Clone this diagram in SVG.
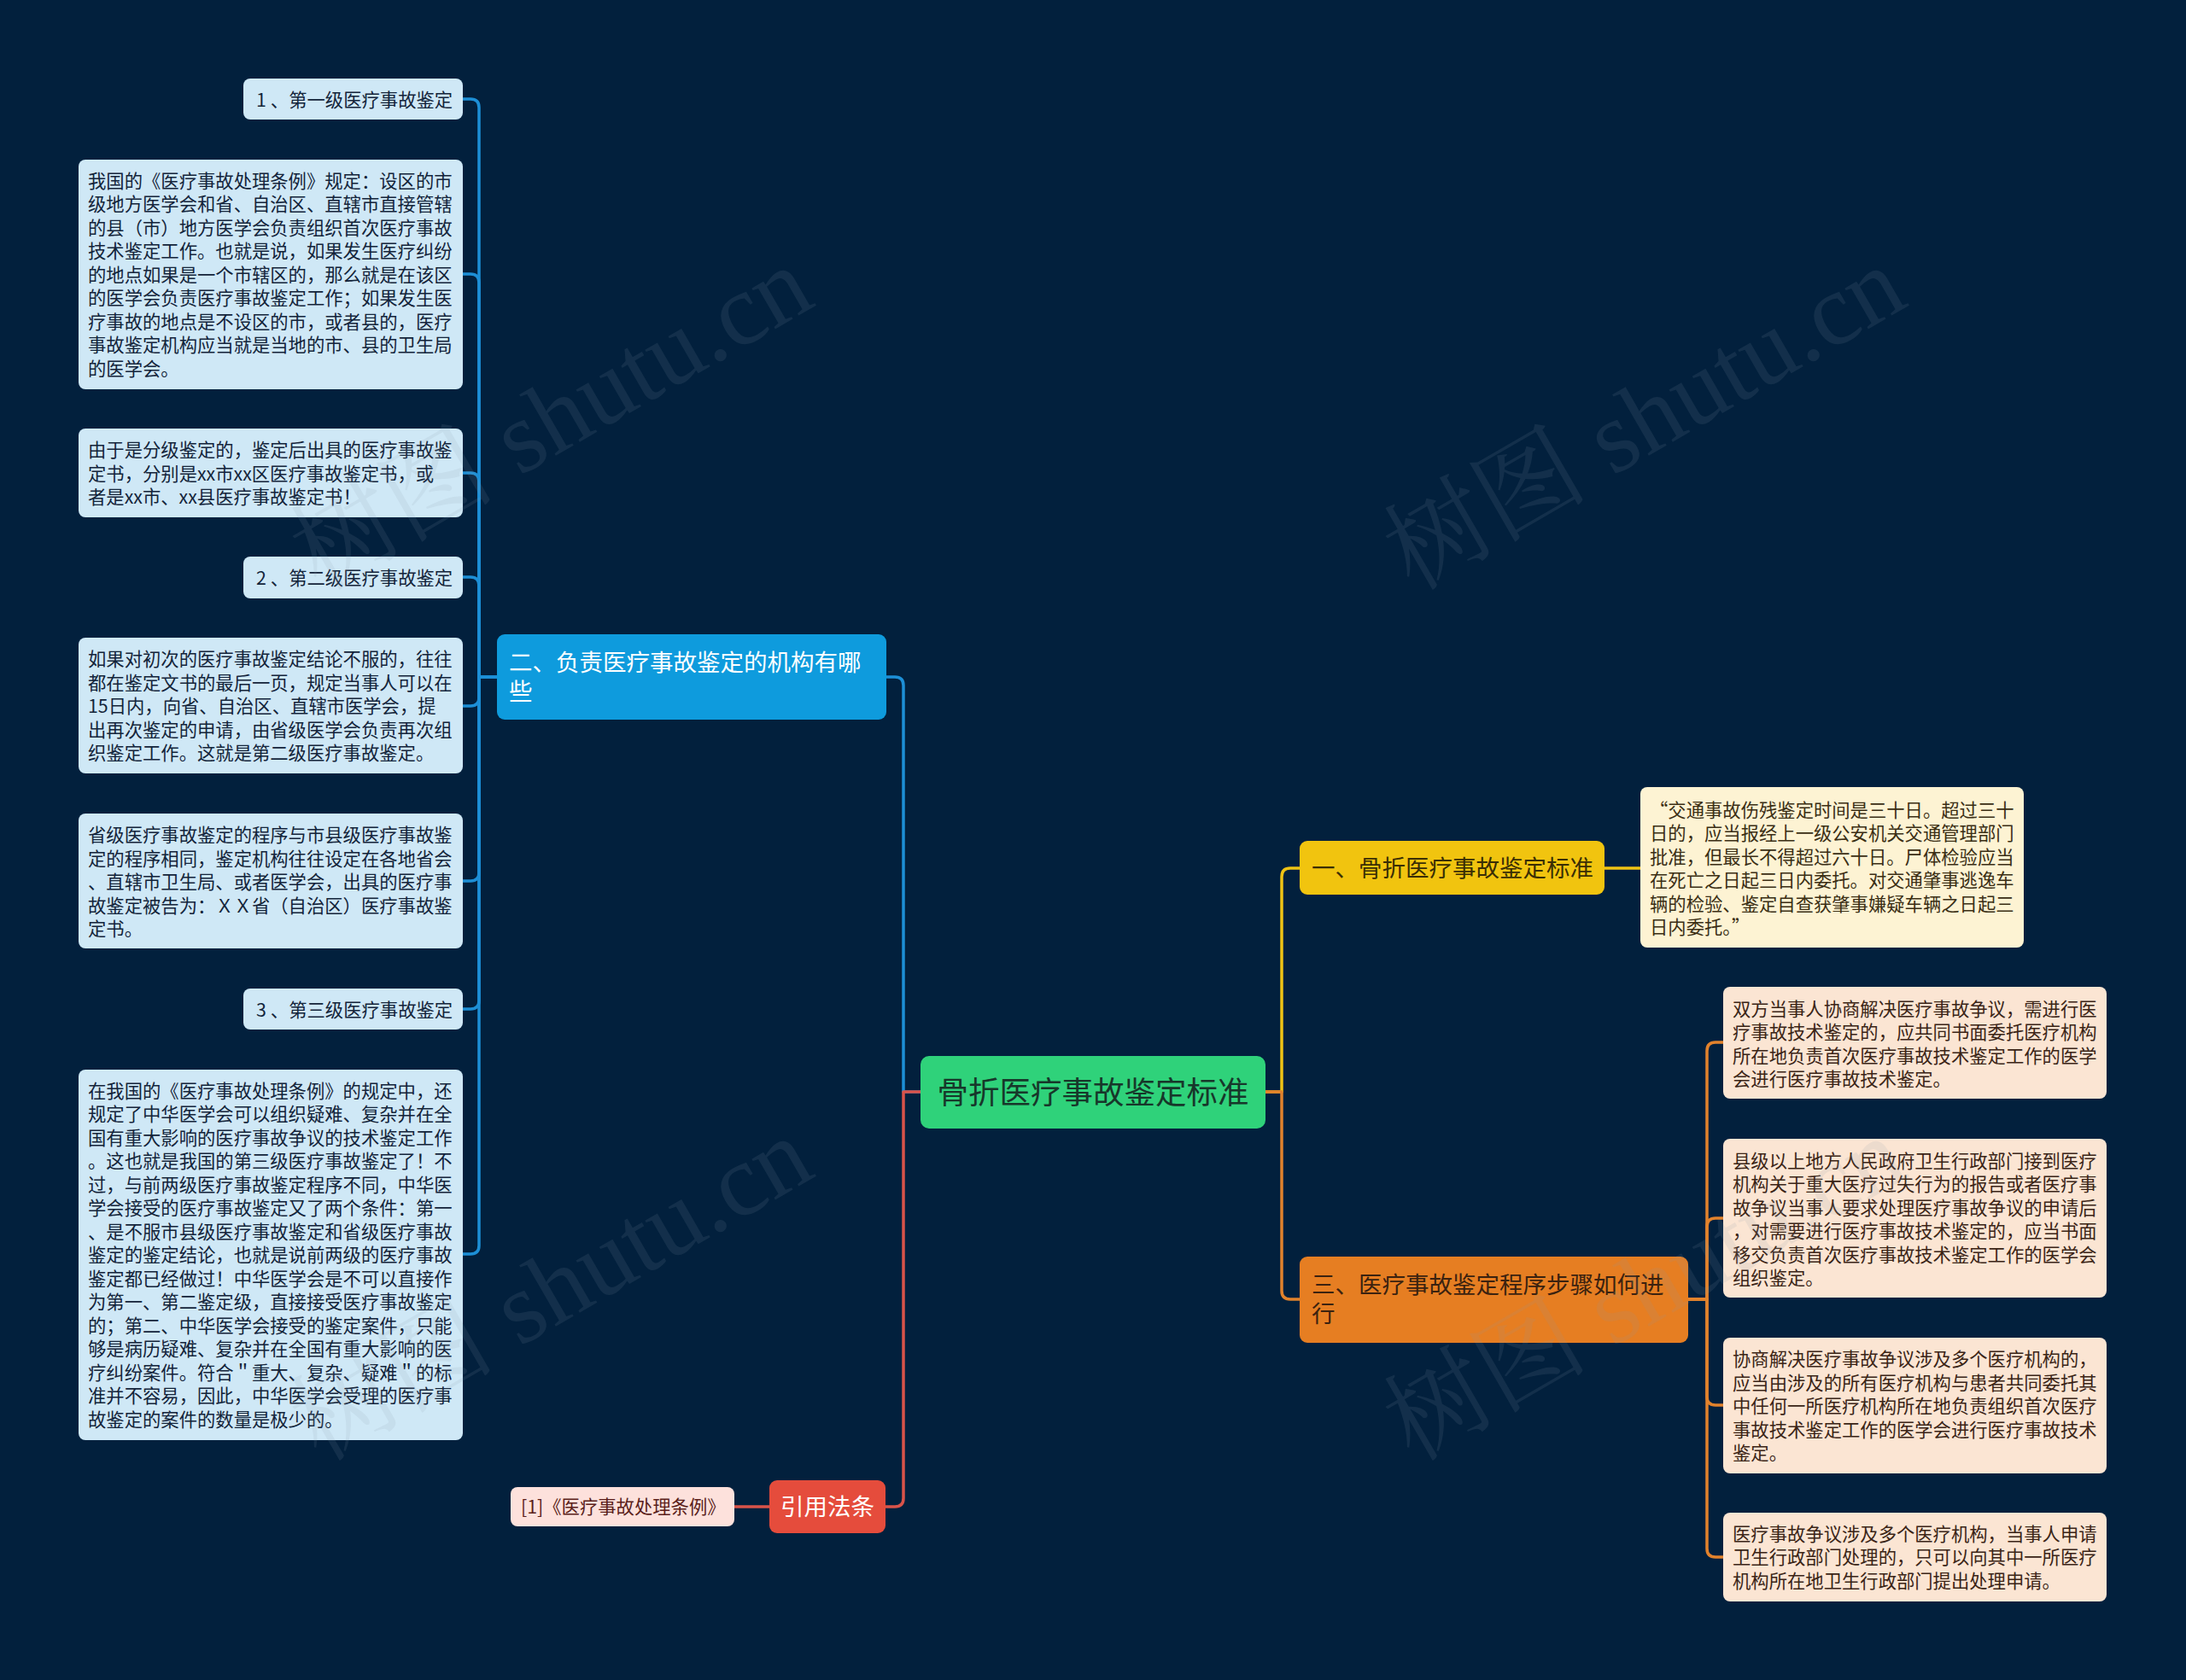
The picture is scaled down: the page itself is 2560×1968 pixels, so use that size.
<svg xmlns="http://www.w3.org/2000/svg" width="2560" height="1968" viewBox="0 0 2560 1968">
<defs>
<style>
.t{font-family:"Noto Sans CJK SC","Noto Sans",sans-serif;font-size:21.33px;}
.lb{fill:#cfe8f6;}
.lt{fill:#13243a;}
.qb{fill:#fdf3d3;}
.qt{fill:#3a2e14;}
.ob{fill:#fbe5d3;}
.ot{fill:#3a2416;}
.big{font-family:"Noto Sans CJK SC","Noto Sans",sans-serif;font-size:27.5px;}
.c{fill:none;stroke-width:3.5;stroke-linecap:round;stroke-linejoin:round;}
.wm{font-family:"Liberation Serif","Noto Serif CJK SC","Noto Sans CJK SC",serif;font-size:120px;fill:#8a9aa8;fill-opacity:0.13;}
</style>
</defs>
<rect x="0" y="0" width="2560" height="1968" fill="#02203d"/>

<g id="connectors">
<g stroke="#1d8fd6" class="c">
<path class="c" d="M1078,1279 H1058 V803 Q1058,793 1048,793 H1038"/>
<path class="c" d="M582,793 H561 V126 Q561,116 551,116 H542"/>
<path class="c" d="M582,793 H561 V331 Q561,321 551,321 H542"/>
<path class="c" d="M582,793 H561 V564 Q561,554 551,554 H542"/>
<path class="c" d="M582,793 H561 V686 Q561,676 551,676 H542"/>
<path class="c" d="M582,793 H561 V817 Q561,827 551,827 H542"/>
<path class="c" d="M582,793 H561 V1022 Q561,1032 551,1032 H542"/>
<path class="c" d="M582,793 H561 V1172 Q561,1182 551,1182 H542"/>
<path class="c" d="M582,793 H561 V1459 Q561,1469 551,1469 H542"/>
</g>
<g stroke="#d9534a" class="c">
<path class="c" d="M1078,1279 H1058 V1755 Q1058,1765 1048,1765 H1037"/>
<path class="c" d="M901,1765 H860"/>
</g>
<g stroke="#efc314" class="c">
<path class="c" d="M1482,1279 H1501 V1027 Q1501,1017 1511,1017 H1522"/>
<path class="c" d="M1879,1017 H1921"/>
</g>
<g stroke="#e2822c" class="c">
<path class="c" d="M1482,1279 H1501 V1512 Q1501,1522 1511,1522 H1522"/>
<path class="c" d="M1977,1522 H1999 V1231 Q1999,1221 2009,1221 H2018"/>
<path class="c" d="M1977,1522 H1999 V1437 Q1999,1427 2009,1427 H2018"/>
<path class="c" d="M1977,1522 H1999 V1636 Q1999,1646 2009,1646 H2018"/>
<path class="c" d="M1977,1522 H1999 V1814 Q1999,1824 2009,1824 H2018"/>
</g>
</g>

<g id="center">
<rect x="1078" y="1237" width="404" height="85" rx="10" fill="#2fd27a"/>
<text x="1280" y="1293" text-anchor="middle" font-family="'Noto Sans CJK SC','Noto Sans',sans-serif" font-size="36.5" fill="#17372a">骨折医疗事故鉴定标准</text>
</g>

<g id="b2">
<rect x="582" y="743" width="456" height="100" rx="9" fill="#0e9bdd"/>
<text class="big" fill="#ffffff"><tspan x="596" y="786">二、负责医疗事故鉴定的机构有哪</tspan><tspan x="596" y="820">些</tspan></text>
</g>

<g id="n1">
<rect x="285" y="92" width="257" height="48" rx="8" class="lb"/>
<text class="t lt" x="300" y="124.5">1<tspan dx="5">、第一级医疗事故鉴定</tspan></text>
</g>

<g id="l1">
<rect x="92" y="187" width="450" height="269" rx="8" class="lb"/>
<text class="t lt">
<tspan x="103" y="219.5">我国的《医疗事故处理条例》规定：设区的市</tspan>
<tspan x="103" y="247">级地方医学会和省、自治区、直辖市直接管辖</tspan>
<tspan x="103" y="274.5">的县（市）地方医学会负责组织首次医疗事故</tspan>
<tspan x="103" y="302">技术鉴定工作。也就是说，如果发生医疗纠纷</tspan>
<tspan x="103" y="329.5">的地点如果是一个市辖区的，那么就是在该区</tspan>
<tspan x="103" y="357">的医学会负责医疗事故鉴定工作；如果发生医</tspan>
<tspan x="103" y="384.5">疗事故的地点是不设区的市，或者县的，医疗</tspan>
<tspan x="103" y="412">事故鉴定机构应当就是当地的市、县的卫生局</tspan>
<tspan x="103" y="439.5">的医学会。</tspan>
</text>
</g>

<g id="l2">
<rect x="92" y="502" width="450" height="104" rx="8" class="lb"/>
<text class="t lt">
<tspan x="103" y="535">由于是分级鉴定的，鉴定后出具的医疗事故鉴</tspan>
<tspan x="103" y="562.5">定书，分别是xx市xx区医疗事故鉴定书，或</tspan>
<tspan x="103" y="590">者是xx市、xx县医疗事故鉴定书！</tspan>
</text>
</g>

<g id="n2">
<rect x="285" y="652" width="257" height="49" rx="8" class="lb"/>
<text class="t lt" x="300" y="684.5">2<tspan dx="5">、第二级医疗事故鉴定</tspan></text>
</g>

<g id="l3">
<rect x="92" y="747" width="450" height="159" rx="8" class="lb"/>
<text class="t lt">
<tspan x="103" y="780">如果对初次的医疗事故鉴定结论不服的，往往</tspan>
<tspan x="103" y="807.5">都在鉴定文书的最后一页，规定当事人可以在</tspan>
<tspan x="103" y="835">15日内，向省、自治区、直辖市医学会，提</tspan>
<tspan x="103" y="862.5">出再次鉴定的申请，由省级医学会负责再次组</tspan>
<tspan x="103" y="890">织鉴定工作。这就是第二级医疗事故鉴定。</tspan>
</text>
</g>

<g id="l4">
<rect x="92" y="953" width="450" height="158" rx="8" class="lb"/>
<text class="t lt">
<tspan x="103" y="986">省级医疗事故鉴定的程序与市县级医疗事故鉴</tspan>
<tspan x="103" y="1013.5">定的程序相同，鉴定机构往往设定在各地省会</tspan>
<tspan x="103" y="1041">、直辖市卫生局、或者医学会，出具的医疗事</tspan>
<tspan x="103" y="1068.5">故鉴定被告为：ＸＸ省（自治区）医疗事故鉴</tspan>
<tspan x="103" y="1096">定书。</tspan>
</text>
</g>

<g id="n3">
<rect x="285" y="1158" width="257" height="48" rx="8" class="lb"/>
<text class="t lt" x="300" y="1190.5">3<tspan dx="5">、第三级医疗事故鉴定</tspan></text>
</g>

<g id="l5">
<rect x="92" y="1253" width="450" height="434" rx="8" class="lb"/>
<text class="t lt">
<tspan x="103" y="1285.5">在我国的《医疗事故处理条例》的规定中，还</tspan>
<tspan x="103" y="1313">规定了中华医学会可以组织疑难、复杂并在全</tspan>
<tspan x="103" y="1340.5">国有重大影响的医疗事故争议的技术鉴定工作</tspan>
<tspan x="103" y="1368">。这也就是我国的第三级医疗事故鉴定了！不</tspan>
<tspan x="103" y="1395.5">过，与前两级医疗事故鉴定程序不同，中华医</tspan>
<tspan x="103" y="1423">学会接受的医疗事故鉴定又了两个条件：第一</tspan>
<tspan x="103" y="1450.5">、是不服市县级医疗事故鉴定和省级医疗事故</tspan>
<tspan x="103" y="1478">鉴定的鉴定结论，也就是说前两级的医疗事故</tspan>
<tspan x="103" y="1505.5">鉴定都已经做过！中华医学会是不可以直接作</tspan>
<tspan x="103" y="1533">为第一、第二鉴定级，直接接受医疗事故鉴定</tspan>
<tspan x="103" y="1560.5">的；第二、中华医学会接受的鉴定案件，只能</tspan>
<tspan x="103" y="1588">够是病历疑难、复杂并在全国有重大影响的医</tspan>
<tspan x="103" y="1615.5">疗纠纷案件。符合＂重大、复杂、疑难＂的标</tspan>
<tspan x="103" y="1643">准并不容易，因此，中华医学会受理的医疗事</tspan>
<tspan x="103" y="1670.5">故鉴定的案件的数量是极少的。</tspan>
</text>
</g>

<g id="ref">
<rect x="901" y="1734" width="136" height="62" rx="9" fill="#e54c3c"/>
<text class="big" x="969" y="1775" text-anchor="middle" fill="#ffffff">引用法条</text>
</g>

<g id="ref1">
<rect x="598" y="1742" width="262" height="46" rx="8" fill="#fde1dc"/>
<text class="t" x="610" y="1773" fill="#5a1e1a">[1]《医疗事故处理条例》</text>
</g>

<g id="b1">
<rect x="1522" y="985" width="357" height="63" rx="9" fill="#f1c40f"/>
<text class="big" x="1536" y="1026.5" fill="#3a2e05">一、骨折医疗事故鉴定标准</text>
</g>

<g id="q1">
<rect x="1921" y="922" width="449" height="188" rx="8" class="qb"/>
<text class="t qt">
<tspan x="1932" y="956.5">“交通事故伤残鉴定时间是三十日。超过三十</tspan>
<tspan x="1932" y="984">日的，应当报经上一级公安机关交通管理部门</tspan>
<tspan x="1932" y="1011.5">批准，但最长不得超过六十日。尸体检验应当</tspan>
<tspan x="1932" y="1039">在死亡之日起三日内委托。对交通肇事逃逸车</tspan>
<tspan x="1932" y="1066.5">辆的检验、鉴定自查获肇事嫌疑车辆之日起三</tspan>
<tspan x="1932" y="1094">日内委托。”</tspan>
</text>
</g>

<g id="b3">
<rect x="1522" y="1472" width="455" height="101" rx="9" fill="#e67e22"/>
<text class="big" fill="#3b2210"><tspan x="1536" y="1515">三、医疗事故鉴定程序步骤如何进</tspan><tspan x="1536" y="1549">行</tspan></text>
</g>

<g id="o1">
<rect x="2018" y="1156" width="449" height="131" rx="8" class="ob"/>
<text class="t ot">
<tspan x="2029" y="1189.5">双方当事人协商解决医疗事故争议，需进行医</tspan>
<tspan x="2029" y="1217">疗事故技术鉴定的，应共同书面委托医疗机构</tspan>
<tspan x="2029" y="1244.5">所在地负责首次医疗事故技术鉴定工作的医学</tspan>
<tspan x="2029" y="1272">会进行医疗事故技术鉴定。</tspan>
</text>
</g>

<g id="o2">
<rect x="2018" y="1334" width="449" height="186" rx="8" class="ob"/>
<text class="t ot">
<tspan x="2029" y="1367.5">县级以上地方人民政府卫生行政部门接到医疗</tspan>
<tspan x="2029" y="1395">机构关于重大医疗过失行为的报告或者医疗事</tspan>
<tspan x="2029" y="1422.5">故争议当事人要求处理医疗事故争议的申请后</tspan>
<tspan x="2029" y="1450">，对需要进行医疗事故技术鉴定的，应当书面</tspan>
<tspan x="2029" y="1477.5">移交负责首次医疗事故技术鉴定工作的医学会</tspan>
<tspan x="2029" y="1505">组织鉴定。</tspan>
</text>
</g>

<g id="o3">
<rect x="2018" y="1567" width="449" height="159" rx="8" class="ob"/>
<text class="t ot">
<tspan x="2029" y="1600">协商解决医疗事故争议涉及多个医疗机构的，</tspan>
<tspan x="2029" y="1627.5">应当由涉及的所有医疗机构与患者共同委托其</tspan>
<tspan x="2029" y="1655">中任何一所医疗机构所在地负责组织首次医疗</tspan>
<tspan x="2029" y="1682.5">事故技术鉴定工作的医学会进行医疗事故技术</tspan>
<tspan x="2029" y="1710">鉴定。</tspan>
</text>
</g>

<g id="o4">
<rect x="2018" y="1772" width="449" height="104" rx="8" class="ob"/>
<text class="t ot">
<tspan x="2029" y="1804.5">医疗事故争议涉及多个医疗机构，当事人申请</tspan>
<tspan x="2029" y="1832">卫生行政部门处理的，只可以向其中一所医疗</tspan>
<tspan x="2029" y="1859.5">机构所在地卫生行政部门提出处理申请。</tspan>
</text>
</g>

<g id="watermarks">
<text class="wm" text-anchor="middle" transform="translate(666,525) rotate(-30)">树图 shutu.cn</text>
<text class="wm" text-anchor="middle" transform="translate(666,1545) rotate(-30)">树图 shutu.cn</text>
<text class="wm" text-anchor="middle" transform="translate(1946,525) rotate(-30)">树图 shutu.cn</text>
<text class="wm" text-anchor="middle" transform="translate(1946,1545) rotate(-30)">树图 shutu.cn</text>
</g>
</svg>
